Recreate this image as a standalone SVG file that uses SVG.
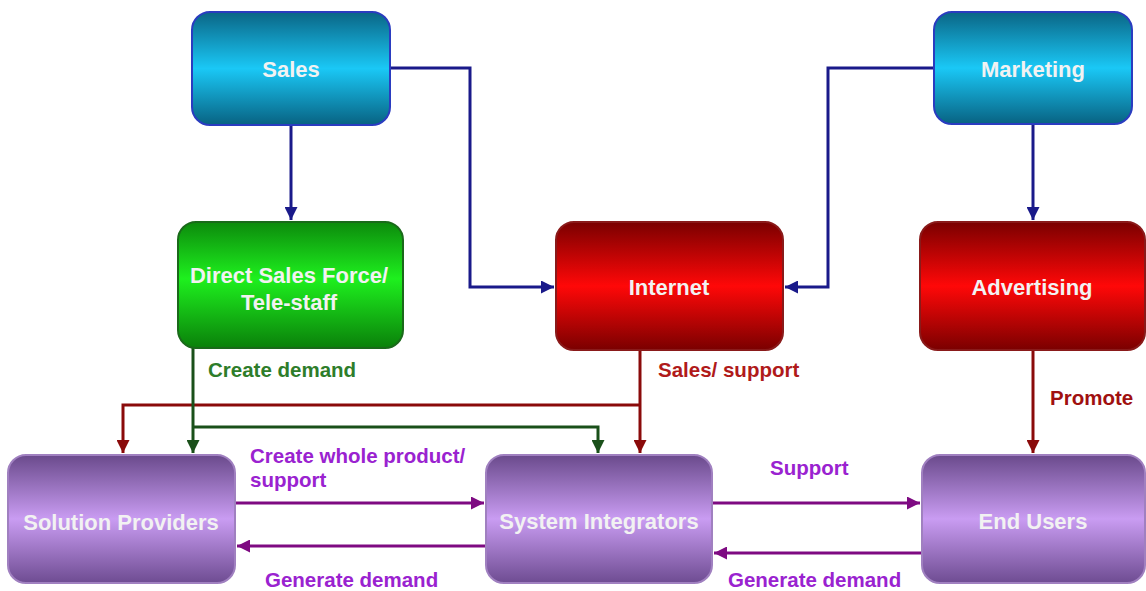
<svg xmlns="http://www.w3.org/2000/svg" width="1146" height="591" viewBox="0 0 1146 591">
<style>
.node-label{font-family:"Liberation Sans",Arial,sans-serif;font-weight:bold;font-size:22px;fill:#f2f2f2;text-anchor:middle}
.lbl{font-family:"Liberation Sans",Arial,sans-serif;font-weight:bold;font-size:20.5px}
.c{fill:none;stroke-width:3}
</style>
<defs>
<linearGradient id="gBlue" x1="0" y1="0" x2="0" y2="1">
<stop offset="0" stop-color="#0a6585"/><stop offset="0.5" stop-color="#1ac8f6"/><stop offset="1" stop-color="#086282"/>
</linearGradient>
<linearGradient id="gGreen" x1="0" y1="0" x2="0" y2="1">
<stop offset="0" stop-color="#0c8a0c"/><stop offset="0.45" stop-color="#1ef01e"/><stop offset="1" stop-color="#0a800a"/>
</linearGradient>
<linearGradient id="gRed" x1="0" y1="0" x2="0" y2="1">
<stop offset="0" stop-color="#7a0000"/><stop offset="0.5" stop-color="#ff0808"/><stop offset="1" stop-color="#7a0000"/>
</linearGradient>
<linearGradient id="gPurple" x1="0" y1="0" x2="0" y2="1">
<stop offset="0" stop-color="#6a4a8c"/><stop offset="0.5" stop-color="#c99cf2"/><stop offset="1" stop-color="#6e4c92"/>
</linearGradient>
<marker id="aBlue" viewBox="0 0 10 10" refX="10" refY="5" markerWidth="13" markerHeight="13" markerUnits="userSpaceOnUse" orient="auto"><path d="M0,0 L10,5 L0,10 z" fill="#1a1a8a"/></marker>
<marker id="aGreen" viewBox="0 0 10 10" refX="10" refY="5" markerWidth="13" markerHeight="13" markerUnits="userSpaceOnUse" orient="auto"><path d="M0,0 L10,5 L0,10 z" fill="#1a501a"/></marker>
<marker id="aRed" viewBox="0 0 10 10" refX="10" refY="5" markerWidth="13" markerHeight="13" markerUnits="userSpaceOnUse" orient="auto"><path d="M0,0 L10,5 L0,10 z" fill="#8a0a0a"/></marker>
<marker id="aPurple" viewBox="0 0 10 10" refX="10" refY="5" markerWidth="13" markerHeight="13" markerUnits="userSpaceOnUse" orient="auto"><path d="M0,0 L10,5 L0,10 z" fill="#7e0a82"/></marker>
</defs>
<rect width="1146" height="591" fill="#ffffff"/>

<g id="connectors">
<path class="c" stroke="#1a1a8a" d="M291,125 V220" marker-end="url(#aBlue)"/>
<path class="c" stroke="#1a1a8a" d="M390,68 H470 V287 H554" marker-end="url(#aBlue)"/>
<path class="c" stroke="#1a1a8a" d="M934,68 H828 V287 H785" marker-end="url(#aBlue)"/>
<path class="c" stroke="#1a1a8a" d="M1033,124 V220" marker-end="url(#aBlue)"/>
<path class="c" stroke="#8a0a0a" d="M640,350 V453" marker-end="url(#aRed)"/>
<path class="c" stroke="#8a0a0a" d="M640,405 H123 V453" marker-end="url(#aRed)"/>
<path class="c" stroke="#1a501a" d="M193,348 V453" marker-end="url(#aGreen)"/>
<path class="c" stroke="#1a501a" d="M193,427 H598 V453" marker-end="url(#aGreen)"/>
<path class="c" stroke="#8a0a0a" d="M1033,350 V453" marker-end="url(#aRed)"/>
<path class="c" stroke="#7e0a82" d="M235,503 H484" marker-end="url(#aPurple)"/>
<path class="c" stroke="#7e0a82" d="M486,546 H237" marker-end="url(#aPurple)"/>
<path class="c" stroke="#7e0a82" d="M712,503 H920" marker-end="url(#aPurple)"/>
<path class="c" stroke="#7e0a82" d="M922,553 H714" marker-end="url(#aPurple)"/>
</g>

<g id="sales">
<rect x="192" y="12" width="198" height="113" rx="18" fill="url(#gBlue)" stroke="#2a3cc0" stroke-width="2"/>
<text class="node-label" x="291" y="77">Sales</text>
</g>
<g id="marketing">
<rect x="934" y="12" width="198" height="112" rx="18" fill="url(#gBlue)" stroke="#2a3cc0" stroke-width="2"/>
<text class="node-label" x="1033" y="77">Marketing</text>
</g>
<g id="direct-sales">
<rect x="178" y="222" width="225" height="126" rx="18" fill="url(#gGreen)" stroke="#1a6a1a" stroke-width="2"/>
<text class="node-label" x="289" y="283">Direct Sales Force/</text>
<text class="node-label" x="289" y="310">Tele-staff</text>
</g>
<g id="internet">
<rect x="556" y="222" width="227" height="128" rx="18" fill="url(#gRed)" stroke="#8a1a1a" stroke-width="2"/>
<text class="node-label" x="669" y="295">Internet</text>
</g>
<g id="advertising">
<rect x="920" y="222" width="225" height="128" rx="18" fill="url(#gRed)" stroke="#8a1a1a" stroke-width="2"/>
<text class="node-label" x="1032" y="295">Advertising</text>
</g>
<g id="solution-providers">
<rect x="8" y="455" width="227" height="128" rx="18" fill="url(#gPurple)" stroke="#a080c0" stroke-width="2"/>
<text class="node-label" x="121" y="530">Solution Providers</text>
</g>
<g id="system-integrators">
<rect x="486" y="455" width="226" height="128" rx="18" fill="url(#gPurple)" stroke="#a080c0" stroke-width="2"/>
<text class="node-label" x="599" y="529">System Integrators</text>
</g>
<g id="end-users">
<rect x="922" y="455" width="223" height="128" rx="18" fill="url(#gPurple)" stroke="#a080c0" stroke-width="2"/>
<text class="node-label" x="1033" y="529">End Users</text>
</g>

<g id="labels">
<text class="lbl" x="208" y="377" fill="#2e7d2a">Create demand</text>
<text class="lbl" x="658" y="377" fill="#b01a1a">Sales/ support</text>
<text class="lbl" x="1050" y="405" fill="#a01010">Promote</text>
<text class="lbl" x="250" y="463" fill="#9a22d0">Create whole product/</text>
<text class="lbl" x="250" y="487" fill="#9a22d0">support</text>
<text class="lbl" x="770" y="475" fill="#9a22d0">Support</text>
<text class="lbl" x="265" y="587" fill="#9a22d0">Generate demand</text>
<text class="lbl" x="728" y="587" fill="#9a22d0">Generate demand</text>
</g>
</svg>
